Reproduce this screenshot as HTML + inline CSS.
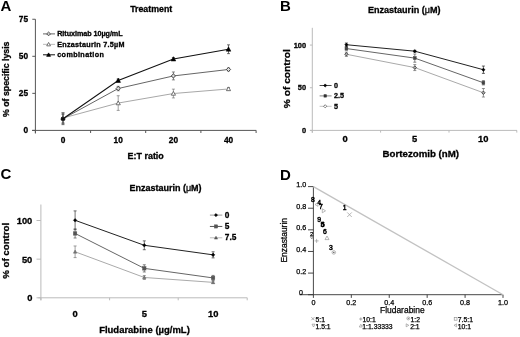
<!DOCTYPE html>
<html><head><meta charset="utf-8"><style>
html,body{margin:0;padding:0;background:#fff;}
body{width:520px;height:337px;overflow:hidden;font-family:"Liberation Sans",sans-serif;}
svg{display:block;filter:blur(0.4px);}
</style></head><body>
<svg width="520" height="337" viewBox="0 0 520 337">
<rect width="520" height="337" fill="#fff"/>
<text x="0.5" y="11" font-size="15" font-family="Liberation Sans, sans-serif" font-weight="bold" text-anchor="start" fill="#000" >A</text>
<text x="279.9" y="11.3" font-size="15" font-family="Liberation Sans, sans-serif" font-weight="bold" text-anchor="start" fill="#000" >B</text>
<text x="0.5" y="179.3" font-size="15" font-family="Liberation Sans, sans-serif" font-weight="bold" text-anchor="start" fill="#000" >C</text>
<text x="280" y="179.8" font-size="15" font-family="Liberation Sans, sans-serif" font-weight="bold" text-anchor="start" fill="#000" >D</text>
<line x1="35.4" y1="19.25" x2="35.4" y2="133.5" stroke="#555" stroke-width="1" />
<line x1="32" y1="130.4" x2="256.2" y2="130.4" stroke="#555" stroke-width="1" />
<line x1="32.3" y1="130.4" x2="35.4" y2="130.4" stroke="#555" stroke-width="1" />
<line x1="32.3" y1="93.35" x2="35.4" y2="93.35" stroke="#555" stroke-width="1" />
<line x1="32.3" y1="56.3" x2="35.4" y2="56.3" stroke="#555" stroke-width="1" />
<line x1="32.3" y1="19.25" x2="35.4" y2="19.25" stroke="#555" stroke-width="1" />
<line x1="35.4" y1="130.4" x2="35.4" y2="133" stroke="#555" stroke-width="1" />
<line x1="90.6" y1="130.4" x2="90.6" y2="133" stroke="#555" stroke-width="1" />
<line x1="145.7" y1="130.4" x2="145.7" y2="133" stroke="#555" stroke-width="1" />
<line x1="200.9" y1="130.4" x2="200.9" y2="133" stroke="#555" stroke-width="1" />
<line x1="256.1" y1="130.4" x2="256.1" y2="133" stroke="#555" stroke-width="1" />
<text x="28.1" y="21.65" font-size="8.3" font-family="Liberation Sans, sans-serif" font-weight="bold" text-anchor="end" fill="#000"  stroke="#000" stroke-width="0.3">75</text>
<text x="28.1" y="58.7" font-size="8.3" font-family="Liberation Sans, sans-serif" font-weight="bold" text-anchor="end" fill="#000"  stroke="#000" stroke-width="0.3">50</text>
<text x="28.1" y="95.75" font-size="8.3" font-family="Liberation Sans, sans-serif" font-weight="bold" text-anchor="end" fill="#000"  stroke="#000" stroke-width="0.3">25</text>
<text x="28.1" y="132.8" font-size="8.3" font-family="Liberation Sans, sans-serif" font-weight="bold" text-anchor="end" fill="#000"  stroke="#000" stroke-width="0.3">0</text>
<text x="63" y="143.3" font-size="8.3" font-family="Liberation Sans, sans-serif" font-weight="bold" text-anchor="middle" fill="#000"  stroke="#000" stroke-width="0.3">0</text>
<text x="118.2" y="143.3" font-size="8.3" font-family="Liberation Sans, sans-serif" font-weight="bold" text-anchor="middle" fill="#000"  stroke="#000" stroke-width="0.3">10</text>
<text x="173.4" y="143.3" font-size="8.3" font-family="Liberation Sans, sans-serif" font-weight="bold" text-anchor="middle" fill="#000"  stroke="#000" stroke-width="0.3">20</text>
<text x="228.5" y="143.3" font-size="8.3" font-family="Liberation Sans, sans-serif" font-weight="bold" text-anchor="middle" fill="#000"  stroke="#000" stroke-width="0.3">40</text>
<text x="127.6" y="159" font-size="8.8" font-family="Liberation Sans, sans-serif" font-weight="bold" text-anchor="start" fill="#000" textLength="36.2" lengthAdjust="spacingAndGlyphs"  stroke="#000" stroke-width="0.3">E:T ratio</text>
<text x="130.2" y="11.6" font-size="8.7" font-family="Liberation Sans, sans-serif" font-weight="bold" text-anchor="start" fill="#000" textLength="42" lengthAdjust="spacingAndGlyphs"  stroke="#000" stroke-width="0.3">Treatment</text>
<text transform="translate(8.6,117) rotate(-90)" x="0" y="0" font-size="8.8" font-family="Liberation Sans, sans-serif" font-weight="bold" text-anchor="start" textLength="75.5" lengthAdjust="spacingAndGlyphs"  stroke="#000" stroke-width="0.3">% of specific lysis</text>
<polyline points="63,118.03 118.2,103.07 173.4,93.53 228.5,88.98" fill="none" stroke="#a8a8a8" stroke-width="1"/>
<polyline points="63,118.76 118.2,88.54 173.4,75.93 228.5,69.47" fill="none" stroke="#666" stroke-width="1"/>
<polyline points="63,118.76 118.2,80.48 173.4,59.06 228.5,49.23" fill="none" stroke="#111" stroke-width="1.05"/>
<line x1="63" y1="112.9" x2="63" y2="123.16" stroke="#777" stroke-width="0.7" />
<line x1="61.5" y1="112.9" x2="64.5" y2="112.9" stroke="#777" stroke-width="0.7" />
<line x1="61.5" y1="123.16" x2="64.5" y2="123.16" stroke="#777" stroke-width="0.7" />
<line x1="118.2" y1="95.73" x2="118.2" y2="110.4" stroke="#777" stroke-width="0.7" />
<line x1="116.7" y1="95.73" x2="119.7" y2="95.73" stroke="#777" stroke-width="0.7" />
<line x1="116.7" y1="110.4" x2="119.7" y2="110.4" stroke="#777" stroke-width="0.7" />
<line x1="173.4" y1="89.13" x2="173.4" y2="97.93" stroke="#777" stroke-width="0.7" />
<line x1="171.9" y1="89.13" x2="174.9" y2="89.13" stroke="#777" stroke-width="0.7" />
<line x1="171.9" y1="97.93" x2="174.9" y2="97.93" stroke="#777" stroke-width="0.7" />
<line x1="228.5" y1="87.52" x2="228.5" y2="90.45" stroke="#777" stroke-width="0.7" />
<line x1="227.0" y1="87.52" x2="230.0" y2="87.52" stroke="#777" stroke-width="0.7" />
<line x1="227.0" y1="90.45" x2="230.0" y2="90.45" stroke="#777" stroke-width="0.7" />
<line x1="63" y1="114.36" x2="63" y2="123.16" stroke="#555" stroke-width="0.7" />
<line x1="61.5" y1="114.36" x2="64.5" y2="114.36" stroke="#555" stroke-width="0.7" />
<line x1="61.5" y1="123.16" x2="64.5" y2="123.16" stroke="#555" stroke-width="0.7" />
<line x1="118.2" y1="86.34" x2="118.2" y2="90.74" stroke="#555" stroke-width="0.7" />
<line x1="116.7" y1="86.34" x2="119.7" y2="86.34" stroke="#555" stroke-width="0.7" />
<line x1="116.7" y1="90.74" x2="119.7" y2="90.74" stroke="#555" stroke-width="0.7" />
<line x1="173.4" y1="71.97" x2="173.4" y2="79.89" stroke="#555" stroke-width="0.7" />
<line x1="171.9" y1="71.97" x2="174.9" y2="71.97" stroke="#555" stroke-width="0.7" />
<line x1="171.9" y1="79.89" x2="174.9" y2="79.89" stroke="#555" stroke-width="0.7" />
<line x1="228.5" y1="68.01" x2="228.5" y2="70.94" stroke="#555" stroke-width="0.7" />
<line x1="227.0" y1="68.01" x2="230.0" y2="68.01" stroke="#555" stroke-width="0.7" />
<line x1="227.0" y1="70.94" x2="230.0" y2="70.94" stroke="#555" stroke-width="0.7" />
<line x1="63" y1="112.9" x2="63" y2="124.63" stroke="#333" stroke-width="0.7" />
<line x1="61.5" y1="112.9" x2="64.5" y2="112.9" stroke="#333" stroke-width="0.7" />
<line x1="61.5" y1="124.63" x2="64.5" y2="124.63" stroke="#333" stroke-width="0.7" />
<line x1="118.2" y1="79.01" x2="118.2" y2="81.94" stroke="#333" stroke-width="0.7" />
<line x1="116.7" y1="79.01" x2="119.7" y2="79.01" stroke="#333" stroke-width="0.7" />
<line x1="116.7" y1="81.94" x2="119.7" y2="81.94" stroke="#333" stroke-width="0.7" />
<line x1="173.4" y1="57.59" x2="173.4" y2="60.52" stroke="#333" stroke-width="0.7" />
<line x1="171.9" y1="57.59" x2="174.9" y2="57.59" stroke="#333" stroke-width="0.7" />
<line x1="171.9" y1="60.52" x2="174.9" y2="60.52" stroke="#333" stroke-width="0.7" />
<line x1="228.5" y1="44.83" x2="228.5" y2="53.63" stroke="#333" stroke-width="0.7" />
<line x1="227.0" y1="44.83" x2="230.0" y2="44.83" stroke="#333" stroke-width="0.7" />
<line x1="227.0" y1="53.63" x2="230.0" y2="53.63" stroke="#333" stroke-width="0.7" />
<polygon points="63,115.93 65.1,119.71 60.9,119.71" fill="#fff" stroke="#555" stroke-width="0.8"/>
<polygon points="118.2,100.97 120.3,104.75 116.1,104.75" fill="#fff" stroke="#555" stroke-width="0.8"/>
<polygon points="173.4,91.43 175.5,95.21 171.3,95.21" fill="#fff" stroke="#555" stroke-width="0.8"/>
<polygon points="228.5,86.88 230.6,90.66 226.4,90.66" fill="#fff" stroke="#555" stroke-width="0.8"/>
<polygon points="63,116.66 65.1,118.76 63,120.86 60.9,118.76" fill="#ddd" stroke="#333" stroke-width="0.9"/>
<polygon points="118.2,86.44 120.3,88.54 118.2,90.64 116.1,88.54" fill="#ddd" stroke="#333" stroke-width="0.9"/>
<polygon points="173.4,73.83 175.5,75.93 173.4,78.03 171.3,75.93" fill="#ddd" stroke="#333" stroke-width="0.9"/>
<polygon points="228.5,67.37 230.6,69.47 228.5,71.57 226.4,69.47" fill="#ddd" stroke="#333" stroke-width="0.9"/>
<polygon points="118.2,78.08 120.6,82.4 115.8,82.4" fill="#000" stroke="#000" stroke-width="0.5"/>
<polygon points="173.4,56.66 175.8,60.98 171.0,60.98" fill="#000" stroke="#000" stroke-width="0.5"/>
<polygon points="228.5,46.83 230.9,51.15 226.1,51.15" fill="#000" stroke="#000" stroke-width="0.5"/>
<rect x="61.1" y="117.2" width="3.8" height="3.4" fill="#111"/>
<line x1="43" y1="33.9" x2="55" y2="33.9" stroke="#666" stroke-width="1" />
<polygon points="48.6,32.0 50.5,33.9 48.6,35.8 46.7,33.9" fill="#ccc" stroke="#333" stroke-width="0.8"/>
<text x="57.2" y="36.1" font-size="7.2" font-family="Liberation Sans, sans-serif" font-weight="bold" text-anchor="start" fill="#000" textLength="65.4" lengthAdjust="spacing"  stroke="#000" stroke-width="0.3">Rituximab 10µg/mL</text>
<line x1="43" y1="44.35" x2="55" y2="44.35" stroke="#bbb" stroke-width="1" />
<polygon points="48.6,42.45 50.5,45.87 46.7,45.87" fill="#fff" stroke="#555" stroke-width="0.8"/>
<text x="57.2" y="46.55" font-size="7.2" font-family="Liberation Sans, sans-serif" font-weight="bold" text-anchor="start" fill="#000" textLength="67.2" lengthAdjust="spacing"  stroke="#000" stroke-width="0.3">Enzastaurin 7.5µM</text>
<line x1="43" y1="54.8" x2="55" y2="54.8" stroke="#111" stroke-width="1" />
<polygon points="48.6,52.9 50.5,56.32 46.7,56.32" fill="#000" stroke="#000" stroke-width="0.8"/>
<text x="57.2" y="57.0" font-size="7.2" font-family="Liberation Sans, sans-serif" font-weight="bold" text-anchor="start" fill="#000" textLength="46.7" lengthAdjust="spacing"  stroke="#000" stroke-width="0.3">combination</text>
<line x1="312.3" y1="27.8" x2="312.3" y2="132.8" stroke="#bbb" stroke-width="1" />
<line x1="309.9" y1="130.4" x2="517" y2="130.4" stroke="#bbb" stroke-width="1" />
<line x1="309.9" y1="130.4" x2="312.3" y2="130.4" stroke="#bbb" stroke-width="1" />
<line x1="309.9" y1="87.74" x2="312.3" y2="87.74" stroke="#bbb" stroke-width="1" />
<line x1="309.9" y1="45.07" x2="312.3" y2="45.07" stroke="#bbb" stroke-width="1" />
<line x1="312.3" y1="130.4" x2="312.3" y2="132.6" stroke="#bbb" stroke-width="1" />
<line x1="380.6" y1="130.4" x2="380.6" y2="132.6" stroke="#bbb" stroke-width="1" />
<line x1="449.0" y1="130.4" x2="449.0" y2="132.6" stroke="#bbb" stroke-width="1" />
<line x1="516.8" y1="130.4" x2="516.8" y2="132.6" stroke="#bbb" stroke-width="1" />
<text x="306.1" y="47.57" font-size="7.4" font-family="Liberation Sans, sans-serif" font-weight="bold" text-anchor="end" fill="#000"  stroke="#000" stroke-width="0.3">100</text>
<text x="306.1" y="90.24" font-size="7.4" font-family="Liberation Sans, sans-serif" font-weight="bold" text-anchor="end" fill="#000"  stroke="#000" stroke-width="0.3">50</text>
<text x="306.1" y="132.9" font-size="7.4" font-family="Liberation Sans, sans-serif" font-weight="bold" text-anchor="end" fill="#000"  stroke="#000" stroke-width="0.3">0</text>
<text x="345.0" y="141.5" font-size="9.4" font-family="Liberation Sans, sans-serif" font-weight="bold" text-anchor="middle" fill="#000"  stroke="#000" stroke-width="0.3">0</text>
<text x="414.5" y="141.5" font-size="9.4" font-family="Liberation Sans, sans-serif" font-weight="bold" text-anchor="middle" fill="#000"  stroke="#000" stroke-width="0.3">5</text>
<text x="483.3" y="141.5" font-size="9.4" font-family="Liberation Sans, sans-serif" font-weight="bold" text-anchor="middle" fill="#000"  stroke="#000" stroke-width="0.3">10</text>
<text x="382.6" y="157.4" font-size="9.6" font-family="Liberation Sans, sans-serif" font-weight="bold" text-anchor="start" fill="#000" textLength="76.5" lengthAdjust="spacingAndGlyphs"  stroke="#000" stroke-width="0.3">Bortezomib (nM)</text>
<text x="367.9" y="12.7" font-size="9" font-family="Liberation Sans, sans-serif" font-weight="bold" textLength="72.6" lengthAdjust="spacingAndGlyphs" stroke="#000" stroke-width="0.3">Enzastaurin (<tspan font-weight="normal">μ</tspan>M)</text>
<text transform="translate(290,108.2) rotate(-90)" x="0" y="0" font-size="9.9" font-family="Liberation Sans, sans-serif" font-weight="bold" text-anchor="start" textLength="59" lengthAdjust="spacingAndGlyphs"  stroke="#000" stroke-width="0.3">% of control</text>
<polyline points="346.4,54.27 414.8,67.59 483.4,92.76" fill="none" stroke="#aaa" stroke-width="1"/>
<polyline points="346.4,48.56 414.8,58.11 483.4,82.77" fill="none" stroke="#666" stroke-width="1"/>
<polyline points="346.4,44.72 414.8,51.2 483.4,69.72" fill="none" stroke="#222" stroke-width="1"/>
<line x1="346.4" y1="52.14" x2="346.4" y2="56.41" stroke="#666" stroke-width="0.7" />
<line x1="344.9" y1="52.14" x2="347.9" y2="52.14" stroke="#666" stroke-width="0.7" />
<line x1="344.9" y1="56.41" x2="347.9" y2="56.41" stroke="#666" stroke-width="0.7" />
<line x1="414.8" y1="64.6" x2="414.8" y2="70.57" stroke="#666" stroke-width="0.7" />
<line x1="413.3" y1="64.6" x2="416.3" y2="64.6" stroke="#666" stroke-width="0.7" />
<line x1="413.3" y1="70.57" x2="416.3" y2="70.57" stroke="#666" stroke-width="0.7" />
<line x1="483.4" y1="88.49" x2="483.4" y2="97.02" stroke="#666" stroke-width="0.7" />
<line x1="481.9" y1="88.49" x2="484.9" y2="88.49" stroke="#666" stroke-width="0.7" />
<line x1="481.9" y1="97.02" x2="484.9" y2="97.02" stroke="#666" stroke-width="0.7" />
<line x1="346.4" y1="46.85" x2="346.4" y2="50.26" stroke="#555" stroke-width="0.7" />
<line x1="344.9" y1="46.85" x2="347.9" y2="46.85" stroke="#555" stroke-width="0.7" />
<line x1="344.9" y1="50.26" x2="347.9" y2="50.26" stroke="#555" stroke-width="0.7" />
<line x1="414.8" y1="54.02" x2="414.8" y2="62.21" stroke="#555" stroke-width="0.7" />
<line x1="413.3" y1="54.02" x2="416.3" y2="54.02" stroke="#555" stroke-width="0.7" />
<line x1="413.3" y1="62.21" x2="416.3" y2="62.21" stroke="#555" stroke-width="0.7" />
<line x1="483.4" y1="80.64" x2="483.4" y2="84.91" stroke="#555" stroke-width="0.7" />
<line x1="481.9" y1="80.64" x2="484.9" y2="80.64" stroke="#555" stroke-width="0.7" />
<line x1="481.9" y1="84.91" x2="484.9" y2="84.91" stroke="#555" stroke-width="0.7" />
<line x1="346.4" y1="43.01" x2="346.4" y2="46.42" stroke="#222" stroke-width="0.7" />
<line x1="344.9" y1="43.01" x2="347.9" y2="43.01" stroke="#222" stroke-width="0.7" />
<line x1="344.9" y1="46.42" x2="347.9" y2="46.42" stroke="#222" stroke-width="0.7" />
<line x1="414.8" y1="50.35" x2="414.8" y2="52.06" stroke="#222" stroke-width="0.7" />
<line x1="413.3" y1="50.35" x2="416.3" y2="50.35" stroke="#222" stroke-width="0.7" />
<line x1="413.3" y1="52.06" x2="416.3" y2="52.06" stroke="#222" stroke-width="0.7" />
<line x1="483.4" y1="66.05" x2="483.4" y2="73.39" stroke="#222" stroke-width="0.7" />
<line x1="481.9" y1="66.05" x2="484.9" y2="66.05" stroke="#222" stroke-width="0.7" />
<line x1="481.9" y1="73.39" x2="484.9" y2="73.39" stroke="#222" stroke-width="0.7" />
<polygon points="346.4,52.57 348.1,54.27 346.4,55.97 344.7,54.27" fill="#aaa" stroke="#333" stroke-width="0.8"/>
<polygon points="414.8,65.89 416.5,67.59 414.8,69.29 413.1,67.59" fill="#aaa" stroke="#333" stroke-width="0.8"/>
<polygon points="483.4,91.06 485.1,92.76 483.4,94.46 481.7,92.76" fill="#aaa" stroke="#333" stroke-width="0.8"/>
<rect x="345.0" y="47.16" width="2.8" height="2.8" fill="#444" stroke="#444" stroke-width="0.5"/>
<rect x="413.4" y="56.71" width="2.8" height="2.8" fill="#444" stroke="#444" stroke-width="0.5"/>
<rect x="482.0" y="81.37" width="2.8" height="2.8" fill="#444" stroke="#444" stroke-width="0.5"/>
<polygon points="346.4,43.02 348.1,44.72 346.4,46.42 344.7,44.72" fill="#000" stroke="#000" stroke-width="0.4"/>
<polygon points="414.8,49.5 416.5,51.2 414.8,52.9 413.1,51.2" fill="#000" stroke="#000" stroke-width="0.4"/>
<polygon points="483.4,68.02 485.1,69.72 483.4,71.42 481.7,69.72" fill="#000" stroke="#000" stroke-width="0.4"/>
<line x1="319.6" y1="85.5" x2="331.6" y2="85.5" stroke="#333" stroke-width="0.9" />
<polygon points="325.2,83.9 326.8,85.5 325.2,87.1 323.6,85.5" fill="#000" stroke="#000" stroke-width="0.6"/>
<text x="333.9" y="87.9" font-size="7.2" font-family="Liberation Sans, sans-serif" font-weight="bold" text-anchor="start" fill="#000"  stroke="#000" stroke-width="0.3">0</text>
<line x1="319.6" y1="95.9" x2="331.6" y2="95.9" stroke="#777" stroke-width="0.9" />
<rect x="324.0" y="94.7" width="2.4" height="2.4" fill="#333" stroke="#333" stroke-width="0.6"/>
<text x="333.9" y="98.3" font-size="7.2" font-family="Liberation Sans, sans-serif" font-weight="bold" text-anchor="start" fill="#000"  stroke="#000" stroke-width="0.3">2.5</text>
<line x1="319.6" y1="106.3" x2="331.6" y2="106.3" stroke="#bbb" stroke-width="0.9" />
<polygon points="325.2,104.7 326.8,106.3 325.2,107.9 323.6,106.3" fill="#fff" stroke="#333" stroke-width="0.6"/>
<text x="333.9" y="108.7" font-size="7.2" font-family="Liberation Sans, sans-serif" font-weight="bold" text-anchor="start" fill="#000"  stroke="#000" stroke-width="0.3">5</text>
<line x1="40.9" y1="204.5" x2="40.9" y2="300.3" stroke="#bbb" stroke-width="1" />
<line x1="38.3" y1="297.8" x2="247.3" y2="297.8" stroke="#bbb" stroke-width="1" />
<line x1="36.5" y1="297.8" x2="40.9" y2="297.8" stroke="#bbb" stroke-width="1" />
<line x1="36.5" y1="259.15" x2="40.9" y2="259.15" stroke="#bbb" stroke-width="1" />
<line x1="36.5" y1="220.5" x2="40.9" y2="220.5" stroke="#bbb" stroke-width="1" />
<line x1="40.9" y1="297.8" x2="40.9" y2="300.3" stroke="#bbb" stroke-width="1" />
<line x1="109.6" y1="297.8" x2="109.6" y2="300.3" stroke="#bbb" stroke-width="1" />
<line x1="178.2" y1="297.8" x2="178.2" y2="300.3" stroke="#bbb" stroke-width="1" />
<line x1="247.2" y1="297.8" x2="247.2" y2="300.3" stroke="#bbb" stroke-width="1" />
<text x="32.3" y="224.1" font-size="9.3" font-family="Liberation Sans, sans-serif" font-weight="bold" text-anchor="end" fill="#000"  stroke="#000" stroke-width="0.3">100</text>
<text x="32.3" y="262.75" font-size="9.3" font-family="Liberation Sans, sans-serif" font-weight="bold" text-anchor="end" fill="#000"  stroke="#000" stroke-width="0.3">50</text>
<text x="32.3" y="301.4" font-size="9.3" font-family="Liberation Sans, sans-serif" font-weight="bold" text-anchor="end" fill="#000"  stroke="#000" stroke-width="0.3">0</text>
<text x="75.0" y="316.5" font-size="9.4" font-family="Liberation Sans, sans-serif" font-weight="bold" text-anchor="middle" fill="#000"  stroke="#000" stroke-width="0.3">0</text>
<text x="144.4" y="316.5" font-size="9.4" font-family="Liberation Sans, sans-serif" font-weight="bold" text-anchor="middle" fill="#000"  stroke="#000" stroke-width="0.3">5</text>
<text x="213.2" y="316.5" font-size="9.4" font-family="Liberation Sans, sans-serif" font-weight="bold" text-anchor="middle" fill="#000"  stroke="#000" stroke-width="0.3">10</text>
<text x="99.2" y="333.3" font-size="9.4" font-family="Liberation Sans, sans-serif" font-weight="bold" textLength="90.6" lengthAdjust="spacingAndGlyphs" stroke="#000" stroke-width="0.3">Fludarabine (µg/mL)</text>
<text x="129.4" y="191.1" font-size="9" font-family="Liberation Sans, sans-serif" font-weight="bold" textLength="72.2" lengthAdjust="spacingAndGlyphs" stroke="#000" stroke-width="0.3">Enzastaurin (<tspan font-weight="normal">μ</tspan>M)</text>
<text transform="translate(8.8,278.8) rotate(-90)" x="0" y="0" font-size="9.6" font-family="Liberation Sans, sans-serif" font-weight="bold" text-anchor="start" textLength="56" lengthAdjust="spacingAndGlyphs"  stroke="#000" stroke-width="0.3">% of control</text>
<polyline points="75.1,251.79 144.3,277.47 213.1,282.36" fill="none" stroke="#aaa" stroke-width="1"/>
<polyline points="75.1,233.45 144.3,268.37 213.1,277.93" fill="none" stroke="#666" stroke-width="1"/>
<polyline points="75.1,220.3 144.3,245.29 213.1,254.85" fill="none" stroke="#222" stroke-width="1"/>
<line x1="75.1" y1="245.98" x2="75.1" y2="257.6" stroke="#777" stroke-width="0.7" />
<line x1="73.6" y1="245.98" x2="76.6" y2="245.98" stroke="#777" stroke-width="0.7" />
<line x1="73.6" y1="257.6" x2="76.6" y2="257.6" stroke="#777" stroke-width="0.7" />
<line x1="144.3" y1="275.56" x2="144.3" y2="279.38" stroke="#777" stroke-width="0.7" />
<line x1="142.8" y1="275.56" x2="145.8" y2="275.56" stroke="#777" stroke-width="0.7" />
<line x1="142.8" y1="279.38" x2="145.8" y2="279.38" stroke="#777" stroke-width="0.7" />
<line x1="213.1" y1="281.21" x2="213.1" y2="283.51" stroke="#777" stroke-width="0.7" />
<line x1="211.6" y1="281.21" x2="214.6" y2="281.21" stroke="#777" stroke-width="0.7" />
<line x1="211.6" y1="283.51" x2="214.6" y2="283.51" stroke="#777" stroke-width="0.7" />
<line x1="75.1" y1="228.86" x2="75.1" y2="238.03" stroke="#555" stroke-width="0.7" />
<line x1="73.6" y1="228.86" x2="76.6" y2="228.86" stroke="#555" stroke-width="0.7" />
<line x1="73.6" y1="238.03" x2="76.6" y2="238.03" stroke="#555" stroke-width="0.7" />
<line x1="144.3" y1="264.78" x2="144.3" y2="271.97" stroke="#555" stroke-width="0.7" />
<line x1="142.8" y1="264.78" x2="145.8" y2="264.78" stroke="#555" stroke-width="0.7" />
<line x1="142.8" y1="271.97" x2="145.8" y2="271.97" stroke="#555" stroke-width="0.7" />
<line x1="213.1" y1="275.41" x2="213.1" y2="280.45" stroke="#555" stroke-width="0.7" />
<line x1="211.6" y1="275.41" x2="214.6" y2="275.41" stroke="#555" stroke-width="0.7" />
<line x1="211.6" y1="280.45" x2="214.6" y2="280.45" stroke="#555" stroke-width="0.7" />
<line x1="75.1" y1="210.9" x2="75.1" y2="229.7" stroke="#333" stroke-width="0.7" />
<line x1="73.6" y1="210.9" x2="76.6" y2="210.9" stroke="#333" stroke-width="0.7" />
<line x1="73.6" y1="229.7" x2="76.6" y2="229.7" stroke="#333" stroke-width="0.7" />
<line x1="144.3" y1="240.86" x2="144.3" y2="249.73" stroke="#333" stroke-width="0.7" />
<line x1="142.8" y1="240.86" x2="145.8" y2="240.86" stroke="#333" stroke-width="0.7" />
<line x1="142.8" y1="249.73" x2="145.8" y2="249.73" stroke="#333" stroke-width="0.7" />
<line x1="213.1" y1="251.79" x2="213.1" y2="257.9" stroke="#333" stroke-width="0.7" />
<line x1="211.6" y1="251.79" x2="214.6" y2="251.79" stroke="#333" stroke-width="0.7" />
<line x1="211.6" y1="257.9" x2="214.6" y2="257.9" stroke="#333" stroke-width="0.7" />
<polygon points="75.1,250.09 76.8,253.15 73.4,253.15" fill="#777" stroke="#666" stroke-width="0.5"/>
<polygon points="144.3,275.77 146.0,278.83 142.6,278.83" fill="#777" stroke="#666" stroke-width="0.5"/>
<polygon points="213.1,280.66 214.8,283.72 211.4,283.72" fill="#777" stroke="#666" stroke-width="0.5"/>
<rect x="73.4" y="231.75" width="3.4" height="3.4" fill="#555" stroke="#555" stroke-width="0.5"/>
<rect x="142.6" y="266.67" width="3.4" height="3.4" fill="#555" stroke="#555" stroke-width="0.5"/>
<rect x="211.4" y="276.23" width="3.4" height="3.4" fill="#555" stroke="#555" stroke-width="0.5"/>
<polygon points="75.1,218.5 76.9,220.3 75.1,222.1 73.3,220.3" fill="#000" stroke="#000" stroke-width="0.4"/>
<polygon points="144.3,243.49 146.1,245.29 144.3,247.09 142.5,245.29" fill="#000" stroke="#000" stroke-width="0.4"/>
<polygon points="213.1,253.05 214.9,254.85 213.1,256.65 211.3,254.85" fill="#000" stroke="#000" stroke-width="0.4"/>
<line x1="209.9" y1="215.1" x2="222.3" y2="215.1" stroke="#999" stroke-width="1" />
<polygon points="216,213.5 217.6,215.1 216,216.7 214.4,215.1" fill="#000" stroke="#000" stroke-width="0.5"/>
<text x="224.8" y="217.7" font-size="8.3" font-family="Liberation Sans, sans-serif" font-weight="bold" text-anchor="start" fill="#000"  stroke="#000" stroke-width="0.3">0</text>
<line x1="209.9" y1="226.45" x2="222.3" y2="226.45" stroke="#555" stroke-width="1" />
<rect x="214.4" y="224.85" width="3.2" height="3.2" fill="#555" stroke="#555" stroke-width="0.5"/>
<text x="224.8" y="229.05" font-size="8.3" font-family="Liberation Sans, sans-serif" font-weight="bold" text-anchor="start" fill="#000"  stroke="#000" stroke-width="0.3">5</text>
<line x1="209.9" y1="237.8" x2="222.3" y2="237.8" stroke="#bbb" stroke-width="1" />
<polygon points="216,236.2 217.6,239.08 214.4,239.08" fill="#555" stroke="#555" stroke-width="0.5"/>
<text x="224.8" y="240.4" font-size="8.3" font-family="Liberation Sans, sans-serif" font-weight="bold" text-anchor="start" fill="#000"  stroke="#000" stroke-width="0.3">7.5</text>
<line x1="313.4" y1="186.6" x2="313.4" y2="294.7" stroke="#333" stroke-width="0.9" />
<line x1="299.5" y1="294.7" x2="502.8" y2="294.7" stroke="#333" stroke-width="0.9" />
<line x1="308.0" y1="294.7" x2="313.4" y2="294.7" stroke="#333" stroke-width="0.9" />
<line x1="313.4" y1="294.7" x2="313.4" y2="297.9" stroke="#333" stroke-width="0.9" />
<line x1="308.0" y1="273.08" x2="313.4" y2="273.08" stroke="#333" stroke-width="0.9" />
<line x1="351.32" y1="294.7" x2="351.32" y2="297.9" stroke="#333" stroke-width="0.9" />
<line x1="308.0" y1="251.46" x2="313.4" y2="251.46" stroke="#333" stroke-width="0.9" />
<line x1="389.24" y1="294.7" x2="389.24" y2="297.9" stroke="#333" stroke-width="0.9" />
<line x1="308.0" y1="229.84" x2="313.4" y2="229.84" stroke="#333" stroke-width="0.9" />
<line x1="427.16" y1="294.7" x2="427.16" y2="297.9" stroke="#333" stroke-width="0.9" />
<line x1="308.0" y1="208.22" x2="313.4" y2="208.22" stroke="#333" stroke-width="0.9" />
<line x1="465.08" y1="294.7" x2="465.08" y2="297.9" stroke="#333" stroke-width="0.9" />
<line x1="308.0" y1="186.6" x2="313.4" y2="186.6" stroke="#333" stroke-width="0.9" />
<line x1="503.0" y1="294.7" x2="503.0" y2="297.9" stroke="#333" stroke-width="0.9" />
<text x="313.4" y="304.7" font-size="7.2" font-family="Liberation Sans, sans-serif" text-anchor="middle" fill="#000" stroke="#000" stroke-width="0.25">0</text>
<text x="351.32" y="304.7" font-size="7.2" font-family="Liberation Sans, sans-serif" text-anchor="middle" fill="#000" stroke="#000" stroke-width="0.25">0.2</text>
<text x="306.3" y="273.58" font-size="7.2" font-family="Liberation Sans, sans-serif" text-anchor="end" fill="#000" stroke="#000" stroke-width="0.25">0.2</text>
<text x="389.24" y="304.7" font-size="7.2" font-family="Liberation Sans, sans-serif" text-anchor="middle" fill="#000" stroke="#000" stroke-width="0.25">0.4</text>
<text x="306.3" y="251.96" font-size="7.2" font-family="Liberation Sans, sans-serif" text-anchor="end" fill="#000" stroke="#000" stroke-width="0.25">0.4</text>
<text x="427.16" y="304.7" font-size="7.2" font-family="Liberation Sans, sans-serif" text-anchor="middle" fill="#000" stroke="#000" stroke-width="0.25">0.6</text>
<text x="306.3" y="230.34" font-size="7.2" font-family="Liberation Sans, sans-serif" text-anchor="end" fill="#000" stroke="#000" stroke-width="0.25">0.6</text>
<text x="465.08" y="304.7" font-size="7.2" font-family="Liberation Sans, sans-serif" text-anchor="middle" fill="#000" stroke="#000" stroke-width="0.25">0.8</text>
<text x="306.3" y="208.72" font-size="7.2" font-family="Liberation Sans, sans-serif" text-anchor="end" fill="#000" stroke="#000" stroke-width="0.25">0.8</text>
<text x="503.0" y="304.7" font-size="7.2" font-family="Liberation Sans, sans-serif" text-anchor="middle" fill="#000" stroke="#000" stroke-width="0.25">1.0</text>
<text x="306.3" y="187.1" font-size="7.2" font-family="Liberation Sans, sans-serif" text-anchor="end" fill="#000" stroke="#000" stroke-width="0.25">1.0</text>
<text x="303" y="295.1" font-size="7.0" font-family="Liberation Sans, sans-serif" text-anchor="end" fill="#000" stroke="#000" stroke-width="0.25">0</text>
<line x1="313.4" y1="186.6" x2="503.0" y2="294.7" stroke="#c2c2c2" stroke-width="1.3" />
<text x="380" y="312.6" font-size="8.6" font-family="Liberation Sans, sans-serif" text-anchor="start" fill="#000" textLength="44.6" lengthAdjust="spacingAndGlyphs" stroke="#000" stroke-width="0.25">Fludarabine</text>
<text transform="translate(287.3,262.6) rotate(-90)" x="0" y="0" font-size="8.6" font-family="Liberation Sans, sans-serif" text-anchor="start" textLength="44.6" lengthAdjust="spacingAndGlyphs" stroke="#000" stroke-width="0.25">Enzastaurin</text>
<text x="313" y="201.5" font-size="6.8" font-family="Liberation Sans, sans-serif" text-anchor="middle" fill="#000" stroke="#000" stroke-width="0.45">8</text>
<text x="319.2" y="204.6" font-size="6.8" font-family="Liberation Sans, sans-serif" text-anchor="middle" fill="#000" stroke="#000" stroke-width="0.45">4</text>
<text x="320.8" y="208.6" font-size="6.8" font-family="Liberation Sans, sans-serif" text-anchor="middle" fill="#000" stroke="#000" stroke-width="0.45">7</text>
<text x="344.7" y="209.7" font-size="6.8" font-family="Liberation Sans, sans-serif" text-anchor="middle" fill="#000" stroke="#000" stroke-width="0.45">1</text>
<text x="319.2" y="222" font-size="6.8" font-family="Liberation Sans, sans-serif" text-anchor="middle" fill="#000" stroke="#000" stroke-width="0.45">9</text>
<text x="322.4" y="227.3" font-size="6.8" font-family="Liberation Sans, sans-serif" text-anchor="middle" fill="#000" stroke="#000" stroke-width="0.45">5</text>
<text x="323" y="227.4" font-size="6.8" font-family="Liberation Sans, sans-serif" text-anchor="middle" fill="#000" stroke="#000" stroke-width="0.45">6</text>
<text x="324.9" y="234" font-size="6.8" font-family="Liberation Sans, sans-serif" text-anchor="middle" fill="#000" stroke="#000" stroke-width="0.45">6</text>
<text x="330.8" y="249.8" font-size="6.8" font-family="Liberation Sans, sans-serif" text-anchor="middle" fill="#000" stroke="#000" stroke-width="0.45">3</text>
<text x="311.8" y="236" font-size="6.2" font-family="Liberation Sans, sans-serif" text-anchor="middle" fill="#000" stroke="#000" stroke-width="0.25">2</text>
<polygon points="310.3,236.6 313.3,236.6 311.8,239" fill="none" stroke="#666" stroke-width="0.6"/>
<line x1="347.2" y1="212.4" x2="351.8" y2="217.0" stroke="#999" stroke-width="0.7" />
<line x1="347.2" y1="217.0" x2="351.8" y2="212.4" stroke="#999" stroke-width="0.7" />
<line x1="314.6" y1="240.9" x2="318.6" y2="240.9" stroke="#999" stroke-width="0.7" />
<line x1="316.6" y1="238.9" x2="316.6" y2="242.9" stroke="#999" stroke-width="0.7" />
<circle cx="333.8" cy="252.4" r="1.8" fill="none" stroke="#999" stroke-width="0.7"/>
<circle cx="333.8" cy="252.4" r="0.55" fill="#555" stroke="#555" stroke-width="0.3"/>
<polygon points="327,236 329,239.6 325,239.6" fill="none" stroke="#999" stroke-width="0.7"/>
<polygon points="322.3,208.8 325.5,210.8 322.3,212.8" fill="none" stroke="#999" stroke-width="0.7"/>
<polygon points="318,202.7 315,204.5 318,206.3" fill="none" stroke="#999" stroke-width="0.7"/>
<text x="315.5" y="321.6" font-size="6.8" font-family="Liberation Sans, sans-serif" text-anchor="start" fill="#000" stroke="#000" stroke-width="0.25">5:1</text>
<text x="315.5" y="328.6" font-size="6.8" font-family="Liberation Sans, sans-serif" text-anchor="start" fill="#000" stroke="#000" stroke-width="0.25">1.5:1</text>
<text x="362.5" y="321.6" font-size="6.8" font-family="Liberation Sans, sans-serif" text-anchor="start" fill="#000" stroke="#000" stroke-width="0.25">10:1</text>
<text x="362.3" y="328.6" font-size="6.8" font-family="Liberation Sans, sans-serif" text-anchor="start" fill="#000" stroke="#000" stroke-width="0.25">1:1.33333</text>
<text x="410.5" y="321.6" font-size="6.8" font-family="Liberation Sans, sans-serif" text-anchor="start" fill="#000" stroke="#000" stroke-width="0.25">1:2</text>
<text x="410.2" y="328.6" font-size="6.8" font-family="Liberation Sans, sans-serif" text-anchor="start" fill="#000" stroke="#000" stroke-width="0.25">2:1</text>
<text x="457.8" y="321.6" font-size="6.8" font-family="Liberation Sans, sans-serif" text-anchor="start" fill="#000" stroke="#000" stroke-width="0.25">7.5:1</text>
<text x="457.8" y="328.6" font-size="6.8" font-family="Liberation Sans, sans-serif" text-anchor="start" fill="#000" stroke="#000" stroke-width="0.25">10:1</text>
<line x1="311.4" y1="317.2" x2="314.4" y2="320.2" stroke="#888" stroke-width="0.7" />
<line x1="311.4" y1="320.2" x2="314.4" y2="317.2" stroke="#888" stroke-width="0.7" />
<polygon points="312,324.2 315,324.2 313.5,327" fill="none" stroke="#888" stroke-width="0.6"/>
<line x1="359.2" y1="319" x2="362.4" y2="319" stroke="#888" stroke-width="0.7" />
<line x1="360.8" y1="317.4" x2="360.8" y2="320.6" stroke="#888" stroke-width="0.7" />
<polygon points="360.8,324.3 362.3,327.0 359.3,327.0" fill="none" stroke="#888" stroke-width="0.6"/>
<circle cx="408.3" cy="318.4" r="1.5" fill="none" stroke="#888" stroke-width="0.6"/>
<circle cx="408.3" cy="318.4" r="0.45" fill="#333" stroke="#333" stroke-width="0.2"/>
<polygon points="406.2,323.8 408.8,325.3 406.2,326.8" fill="none" stroke="#888" stroke-width="0.6"/>
<rect x="454.2" y="317.4" width="2.8" height="2.8" fill="none" stroke="#888" stroke-width="0.6"/>
<polygon points="456.6,323.8 454,325.3 456.6,326.8" fill="none" stroke="#888" stroke-width="0.6"/>
</svg>
</body></html>
